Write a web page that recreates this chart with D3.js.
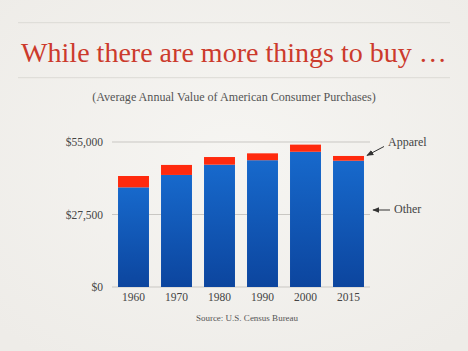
<!DOCTYPE html>
<html>
<head>
<meta charset="utf-8">
<script src="https://cdn.jsdelivr.net/npm/d3@7"></script>
<style>
  html, body { margin: 0; padding: 0; background: #f3f1ee; }
  svg { display: block; }
</style>
</head>
<body>
<div id="chart"></div>
<script>
const years = ["1960", "1970", "1980", "1990", "2000", "2015"];
const other = [37800, 42500, 46400, 48100, 51300, 47900];
const apparel = [4300, 3800, 2900, 2600, 2700, 1800];
const yTicks = [0, 27500, 55000];

const width = 468;
const height = 351;
const serif = "'Liberation Serif', 'DejaVu Serif', serif";

const svg = d3.select("#chart").append("svg")
  .attr("width", width)
  .attr("height", height);

const defs = svg.append("defs");

// slide background
const bg = defs.append("radialGradient").attr("id", "bg")
  .attr("cx", "50%").attr("cy", "45%").attr("r", "70%");
bg.append("stop").attr("offset", "0%").attr("stop-color", "#f6f5f2");
bg.append("stop").attr("offset", "100%").attr("stop-color", "#eeece8");

const blue = defs.append("linearGradient").attr("id", "blue")
  .attr("x1", 0).attr("y1", 0).attr("x2", 0).attr("y2", 1);
blue.append("stop").attr("offset", "0%").attr("stop-color", "#1769cc");
blue.append("stop").attr("offset", "100%").attr("stop-color", "#0c459e");

const arrow = defs.append("marker").attr("id", "arrow")
  .attr("viewBox", "0 0 10 10").attr("refX", 9).attr("refY", 5)
  .attr("markerWidth", 7).attr("markerHeight", 7)
  .attr("orient", "auto-start-reverse");
arrow.append("path").attr("d", "M0,1 L10,5 L0,9 Z").attr("fill", "#333");

svg.append("rect").attr("width", width).attr("height", height).attr("fill", "url(#bg)");

// title with rules
svg.append("line").attr("x1", 18).attr("x2", 450).attr("y1", 22.7).attr("y2", 22.7)
  .attr("stroke", "#dcdad6").attr("stroke-width", 1);
svg.append("line").attr("x1", 18).attr("x2", 450).attr("y1", 77.7).attr("y2", 77.7)
  .attr("stroke", "#dcdad6").attr("stroke-width", 1);

// fit a text to a target width by its font size
function fitText(sel, target, start) {
  sel.attr("font-size", start);
  const w = sel.node().getComputedTextLength();
  sel.attr("font-size", start * target / w);
}

const title = svg.append("text")
  .attr("x", 234).attr("y", 62)
  .attr("text-anchor", "middle")
  .attr("font-family", serif)
  .attr("fill", "#cc3a2c")
  .text("While there are more things to buy …");
fitText(title, 426, 36);

const sub = svg.append("text")
  .attr("x", 234).attr("y", 100.5)
  .attr("text-anchor", "middle")
  .attr("font-family", serif)
  .attr("fill", "#555")
  .text("(Average Annual Value of American Consumer Purchases)");
fitText(sub, 284, 12);

// scales
const x = d3.scaleBand().domain(years).range([112, 370])
  .paddingInner(0.28).paddingOuter(0.14);
const y = d3.scaleLinear().domain([0, 55000]).range([287, 142]);

// grid
svg.append("g").selectAll("line").data(yTicks).join("line")
  .attr("x1", 112).attr("x2", 370)
  .attr("y1", d => y(d)).attr("y2", d => y(d))
  .attr("stroke", "#c9c7c3").attr("stroke-width", 1);

// y labels
const yAxis = d3.axisLeft(y).tickValues(yTicks)
  .tickFormat(d => "$" + d3.format(",")(d)).tickSize(0).tickPadding(0);
const ya = svg.append("g").attr("transform", "translate(103,0)").call(yAxis);
ya.select(".domain").remove();
ya.selectAll("text")
  .attr("font-family", serif)
  .attr("font-size", 11.5).attr("fill", "#444");

// bars
const bars = svg.append("g");
bars.selectAll("rect.other").data(years).join("rect")
  .attr("class", "other")
  .attr("x", d => x(d)).attr("width", x.bandwidth())
  .attr("y", (d, i) => y(other[i]))
  .attr("height", (d, i) => y(0) - y(other[i]))
  .attr("fill", "url(#blue)");
bars.selectAll("rect.apparel").data(years).join("rect")
  .attr("class", "apparel")
  .attr("x", d => x(d)).attr("width", x.bandwidth())
  .attr("y", (d, i) => y(other[i] + apparel[i]))
  .attr("height", (d, i) => y(other[i]) - y(other[i] + apparel[i]))
  .attr("fill", "#ff2a0e");

// x labels
const xAxis = d3.axisBottom(x).tickSize(0).tickPadding(0);
const xa = svg.append("g").attr("transform", "translate(0,293)").call(xAxis);
xa.select(".domain").remove();
xa.selectAll("text")
  .attr("font-family", serif)
  .attr("font-size", 11.5).attr("fill", "#444");

svg.append("text")
  .attr("x", 247).attr("y", 321)
  .attr("text-anchor", "middle")
  .attr("font-family", serif)
  .attr("font-size", 9).attr("fill", "#555")
  .text("Source: U.S. Census Bureau");

// annotations
const last = years.length - 1;
const lastRight = x(years[last]) + x.bandwidth();
svg.append("line")
  .attr("x1", 384).attr("y1", 146.5)
  .attr("x2", lastRight + 3).attr("y2", y(other[last] + apparel[last]) - 0.5)
  .attr("stroke", "#333").attr("stroke-width", 1)
  .attr("marker-end", "url(#arrow)");
svg.append("text")
  .attr("x", 388).attr("y", 145.5)
  .attr("font-family", serif)
  .attr("font-size", 12).attr("fill", "#444")
  .text("Apparel");

svg.append("line")
  .attr("x1", 390).attr("y1", 210)
  .attr("x2", 373).attr("y2", 210)
  .attr("stroke", "#333").attr("stroke-width", 1)
  .attr("marker-end", "url(#arrow)");
svg.append("text")
  .attr("x", 394).attr("y", 213)
  .attr("font-family", serif)
  .attr("font-size", 12).attr("fill", "#444")
  .text("Other");
</script>
</body>
</html>
